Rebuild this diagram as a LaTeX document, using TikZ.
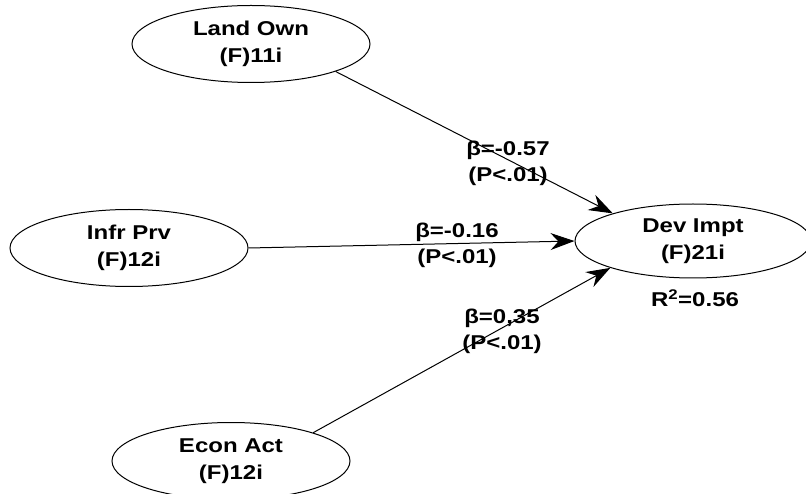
\documentclass[tikz,border=0pt]{standalone}
\usepackage{fontspec}
\setmainfont{Liberation Sans}[FakeStretch=1.2]
\usetikzlibrary{arrows.meta, shapes.geometric}

\begin{document}
\begin{tikzpicture}[x=1pt, y=-1pt,
  latent/.style={ellipse, draw, line width=1pt, minimum width=238pt, minimum height=77pt,
    inner sep=0pt, align=center, font=\bfseries\fontsize{20}{27}\selectfont},
  path/.style={line width=1pt, -{Stealth[length=24pt, width=17pt, inset=8pt]}},
  coef/.style={align=center, font=\bfseries\fontsize{20}{26}\selectfont}]
\useasboundingbox (0,0) rectangle (806,494);
% exogenous factors
\node[latent] (land) at (251,44) {Land Own\\(F)11i};
\node[latent] (infr) at (129,248) {Infr Prv\\(F)12i};
\node[latent] (econ) at (231,461) {Econ Act\\(F)12i};
% endogenous factor
\node[latent, minimum width=236pt, minimum height=74pt] (dev) at (693,241) {Dev Impt\\(F)21i};
\node[coef] (rsq) at (695,298) {R\textsuperscript{2}=0.56};
% structural paths
\draw[path] (land.-18) -- (dev.161);
\draw[path] (infr.east) -- (dev.west);
\draw[path] (econ.19) -- (dev.198);
\node[coef] (b1) at (508,163) {β=-0.57\\(P<.01)};
\node[coef] (b2) at (457,245) {β=-0.16\\(P<.01)};
\node[coef] (b3) at (502,331) {β=0,35\\(P<.01)};
\end{tikzpicture}
\end{document}
